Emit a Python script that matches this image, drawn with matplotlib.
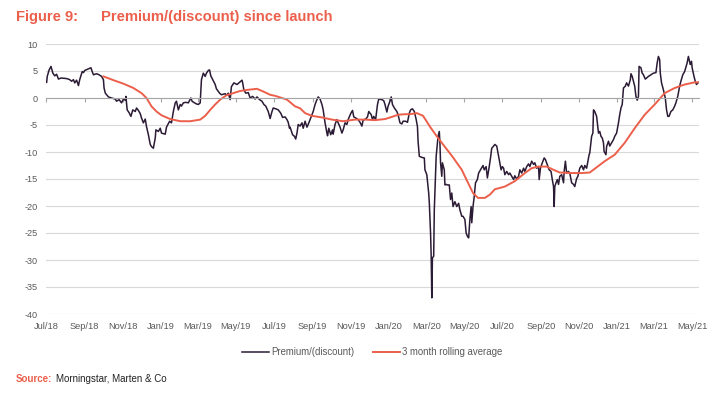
import pandas as pd
import matplotlib
matplotlib.use("Agg")
import matplotlib.pyplot as plt
import matplotlib.dates as mdates

plt.rcParams['font.family'] = ['Liberation Sans', 'DejaVu Sans']
plt.rcParams['axes.unicode_minus'] = False

# Dữ liệu (ngày kể từ khi niêm yết, premium/discount %)
launch = pd.Timestamp('2018-07-01')

prem_days = [1, 2, 5, 8, 11, 14, 17, 20, 24, 33, 38, 41, 44, 46, 49, 52, 54, 58, 60, 62,
             68, 72, 74, 76, 81, 85, 89, 92, 93, 95, 100, 105, 111, 113, 117, 121, 124, 127, 128, 130,
             133, 136, 139, 143, 145, 148, 151, 153, 156, 159, 161, 164, 167, 169, 172, 175, 176, 180, 183, 185,
             191, 193, 198, 201, 204, 207, 209, 212, 215, 217, 220, 224, 228, 232, 234, 238, 241, 244, 247, 249,
             252, 255, 257, 260, 262, 264, 267, 271, 273, 278, 281, 287, 289, 292, 295, 297, 301, 306, 310, 314,
             315, 317, 320, 324, 327, 331, 335, 338, 342, 346, 349, 352, 356, 359, 362, 364, 368, 372, 376, 379,
             383, 386, 388, 390, 391, 395, 398, 400, 402, 404, 407, 410, 412, 415, 418, 420, 423, 426, 428, 431,
             434, 436, 439, 442, 444, 447, 450, 451, 453, 456, 459, 460, 463, 466, 468, 471, 474, 476, 479, 482,
             484, 488, 491, 493, 496, 500, 503, 506, 508, 512, 515, 517, 521, 523, 525, 528, 531, 533, 538, 541,
             543, 546, 548, 551, 553, 555, 558, 562, 564, 567, 570, 572, 576, 579, 582, 584, 587, 590, 593, 595,
             596, 598, 602, 606, 607, 610, 613, 614, 616, 617, 618, 619, 621, 622, 624, 625, 627, 628, 630, 631,
             632, 634, 635, 638, 639, 641, 643, 646, 648, 650, 652, 655, 658, 661, 663, 666, 668, 671, 673, 675,
             677, 679, 681, 682, 684, 686, 688, 691, 693, 696, 700, 702, 705, 707, 710, 712, 714, 717, 719, 722,
             725, 727, 729, 731, 733, 735, 738, 741, 743, 746, 749, 751, 754, 757, 759, 762, 765, 767, 770, 773,
             775, 778, 781, 783, 786, 789, 790, 792, 795, 798, 800, 804, 806, 809, 811, 813, 814, 815, 817, 819,
             821, 823, 826, 829, 830, 832, 834, 837, 839, 842, 845, 847, 850, 852, 855, 858, 861, 863, 866, 868,
             870, 871, 874, 876, 877, 879, 882, 885, 887, 889, 891, 893, 894, 897, 898, 901, 903, 906, 909, 911,
             914, 917, 919, 921, 923, 925, 928, 930, 933, 936, 937, 939, 943, 945, 947, 949, 950, 953, 955, 957,
             960, 962, 965, 969, 973, 977, 979, 981, 983, 984, 986, 989, 992, 994, 996, 998, 1001, 1004, 1007, 1009,
             1012, 1015, 1017, 1020, 1023, 1025, 1027, 1029, 1032, 1034, 1035, 1038, 1040, 1042, 1045]
prem_vals = [2.9, 4.0, 5.2, 5.85, 4.6, 4.1, 4.4, 3.5, 3.7, 3.6, 3.4, 3.1, 3.4, 2.8, 3.3, 2.3, 3.4, 4.9, 4.7, 5.1,
             5.4, 5.6, 4.9, 4.3, 4.5, 4.3, 4.0, 3.4, 1.85, 0.9, 0.2, 0.0, -0.2, -0.6, -0.3, -0.9, -0.2, -0.4, 0.3, -2.2,
             -2.7, -3.4, -2.2, -2.5, -1.85, -2.3, -2.9, -3.7, -4.6, -3.9, -5.3, -6.8, -8.6, -9.0, -9.3, -7.4, -5.9, -6.2, -5.6, -6.5,
             -6.7, -5.4, -4.3, -4.6, -2.5, -0.9, -0.6, -2.2, -1.2, -1.5, -0.9, -0.8, -0.9, 0.0, -0.6, -0.9, -1.1, -1.2, -0.9, 3.4,
             4.6, 4.0, 4.6, 5.1, 5.2, 4.1, 3.4, 2.5, 1.7, 0.9, 0.6, 0.8, 0.5, 0.9, -0.3, 2.1, 2.8, 2.5, 2.9, 3.3,
             2.8, 1.5, 0.9, 1.0, 0.0, 0.3, -0.2, 0.2, -0.3, -0.6, -1.2, -1.5, -2.5, -3.8, -2.5, -1.85, -2.0, -2.2, -2.8, -3.6,
             -3.5, -4.0, -4.5, -5.6, -5.4, -6.8, -7.1, -7.6, -6.5, -4.9, -5.2, -4.6, -5.6, -4.3, -5.4, -4.9, -4.0, -3.1, -2.5, -1.2,
             -0.3, 0.2, -0.2, -1.2, -2.2, -4.6, -6.5, -7.0, -5.6, -6.8, -5.9, -6.7, -4.9, -4.0, -4.6, -5.4, -6.5, -5.9, -4.6, -4.9,
             -4.0, -2.9, -2.3, -3.5, -3.7, -4.0, -4.5, -5.2, -4.1, -3.9, -3.5, -2.5, -3.1, -4.0, -3.4, -4.0, -1.2, -0.2, -0.3, -0.5,
             -1.2, -2.6, -1.5, -0.6, 0.2, -1.2, -1.85, -2.5, -3.1, -4.6, -4.8, -4.3, -4.3, -4.5, -2.8, -2.2, -2.0, -2.5, -4.0, -5.3,
             -8.0, -10.8, -11.0, -11.1, -13.3, -14.2, -17.6, -19.4, -25.0, -29.3, -37.0, -29.6, -29.3, -20.7, -13.9, -10.8, -8.3, -7.1, -6.2, -8.3,
             -12.0, -14.5, -12.0, -13.3, -16.1, -16.0, -16.1, -16.1, -18.8, -17.6, -20.1, -19.2, -20.1, -19.5, -20.7, -21.9, -21.9, -22.5, -25.0, -25.6,
             -25.9, -22.5, -20.1, -23.1, -20.1, -18.2, -15.7, -15.1, -13.9, -13.3, -12.5, -13.3, -12.7, -14.8, -12.7, -11.1, -9.3, -8.9, -8.6, -8.9,
             -10.8, -12.0, -13.3, -12.7, -13.0, -14.2, -13.6, -14.2, -13.9, -14.5, -15.1, -14.4, -15.0, -14.5, -13.3, -13.9, -13.0, -13.6, -12.7, -12.2,
             -12.7, -11.7, -12.3, -12.0, -13.0, -12.7, -15.1, -13.0, -12.0, -11.1, -11.4, -12.7, -13.3, -13.6, -15.1, -16.4, -20.1, -16.4, -15.7, -15.1,
             -16.0, -14.5, -14.2, -15.7, -13.6, -11.7, -13.9, -13.6, -13.9, -15.7, -16.0, -16.4, -14.9, -14.5, -13.0, -12.5, -13.3, -12.5, -13.0, -11.7,
             -10.5, -10.2, -7.1, -6.5, -2.2, -2.5, -3.4, -6.5, -6.2, -7.1, -7.4, -8.3, -9.9, -10.5, -9.0, -8.0, -8.9, -8.3, -7.7, -7.1,
             -6.5, -4.6, -3.1, -1.85, -1.2, 1.85, 2.2, 2.8, 2.2, 3.4, 4.5, 4.0, 2.2, 0.3, -0.4, 0.3, 5.85, 5.6, 4.6, 4.3,
             3.5, 3.7, 4.0, 4.3, 4.6, 4.7, 6.5, 7.7, 7.1, 4.6, 2.8, 1.5, 0.0, -2.2, -3.4, -3.4, -2.5, -2.2, -1.5, -0.9,
             0.3, 2.2, 3.1, 4.3, 4.9, 5.7, 6.5, 7.7, 6.2, 6.8, 5.6, 4.0, 3.1, 2.5, 2.9]

avg_days = [92, 108, 124, 140, 153, 161, 169, 177, 185, 199, 215, 231, 247, 255, 263, 271, 279, 289, 300, 311,
            322, 338, 348, 359, 367, 386, 399, 407, 415, 426, 442, 458, 476, 495, 511, 527, 543, 554, 564, 575,
            583, 594, 604, 615, 626, 636, 652, 666, 676, 684, 692, 703, 711, 719, 735, 751, 767, 778, 789, 802,
            813, 823, 842, 858, 871, 879, 895, 911, 927, 943, 959, 975, 991, 1007, 1023, 1039, 1045]
avg_vals = [4.0, 3.3, 2.65, 1.85, 0.9, 0.0, -1.55, -2.5, -3.2, -3.9, -4.3, -4.3, -4.0, -3.3, -2.2, -1.2, -0.3, 0.5, 0.9, 1.3,
            1.5, 1.7, 1.2, 0.6, 0.4, -0.3, -1.55, -1.9, -2.8, -3.3, -3.6, -4.0, -4.3, -4.0, -4.0, -4.1, -3.9, -3.5, -3.1, -3.0,
            -3.0, -2.8, -3.3, -5.3, -7.1, -8.6, -11.0, -13.3, -15.7, -17.6, -18.5, -18.5, -17.9, -16.9, -16.4, -15.4, -13.9, -13.0, -12.7, -12.7,
            -13.3, -13.8, -13.9, -13.9, -13.8, -13.1, -11.7, -10.5, -8.3, -5.6, -3.1, -1.2, 0.9, 1.85, 2.5, 2.9, 2.9]

y_ticks = [10, 5, 0, -5, -10, -15, -20, -25, -30, -35, -40]

prem_dates = launch + pd.to_timedelta(prem_days, unit='D')
avg_dates = launch + pd.to_timedelta(avg_days, unit='D')

red = '#EB5F4B'
dark = '#2B1B35'
grey_txt = '#595959'

fig = plt.figure(figsize=(7.19, 3.94), dpi=100)
ax = fig.add_axes([46/719, 1 - 314/394, (699 - 46)/719, (314 - 44)/394])

ax.plot(prem_dates, prem_vals, color=dark, lw=1.1, label='Premium/(discount)')
ax.plot(avg_dates, avg_vals, color=red, lw=1.4, label='3 month rolling average')

ax.set_ylim(-40, 10)
ax.set_yticks(y_ticks)
ax.set_xlim(launch, launch + pd.Timedelta(days=1046))

ax.yaxis.grid(True, color='#d9d9d9', lw=0.8)
ax.set_axisbelow(True)
for s in ['top', 'right', 'left']:
    ax.spines[s].set_visible(False)
ax.spines['bottom'].set_position(('data', 0))
ax.spines['bottom'].set_color('#a6a6a6')
ax.spines['bottom'].set_linewidth(0.8)

loc = mdates.MonthLocator(bymonth=[1, 3, 5, 7, 9, 11])
ax.xaxis.set_major_locator(loc)
ax.tick_params(axis='x', direction='out', length=3, color='#a6a6a6', labelbottom=False)
ax.tick_params(axis='y', length=0, pad=6, labelsize=6.6, labelcolor=grey_txt)

# nhãn trục x nằm ở dưới cùng
sec = ax.secondary_xaxis('bottom')
sec.xaxis.set_major_locator(loc)
sec.xaxis.set_major_formatter(mdates.DateFormatter('%b/%y'))
sec.spines['bottom'].set_visible(False)
sec.tick_params(length=0, pad=6, labelsize=6.7, labelcolor=grey_txt)

fig.legend(loc='center', bbox_to_anchor=(372.5/719, 1 - 352/394), ncol=2, frameon=False,
           fontsize=6.9, handlelength=2.8, handletextpad=0.25, columnspacing=1.9, labelcolor=grey_txt)

fig.text(16/719, 1 - 17/394, 'Figure 9:', color=red, fontsize=10.6, fontweight='bold', va='center')
fig.text(101/719, 1 - 17/394, 'Premium/(discount) since launch', color=red, fontsize=10.6,
         fontweight='bold', va='center')
fig.text(16/719, 1 - 379/394, 'Source:', color=red, fontsize=7, fontweight='bold', va='center')
fig.text(56/719, 1 - 379/394, 'Morningstar, Marten & Co', color='#222222', fontsize=7, va='center')

fig.savefig('out.png', dpi=100)
